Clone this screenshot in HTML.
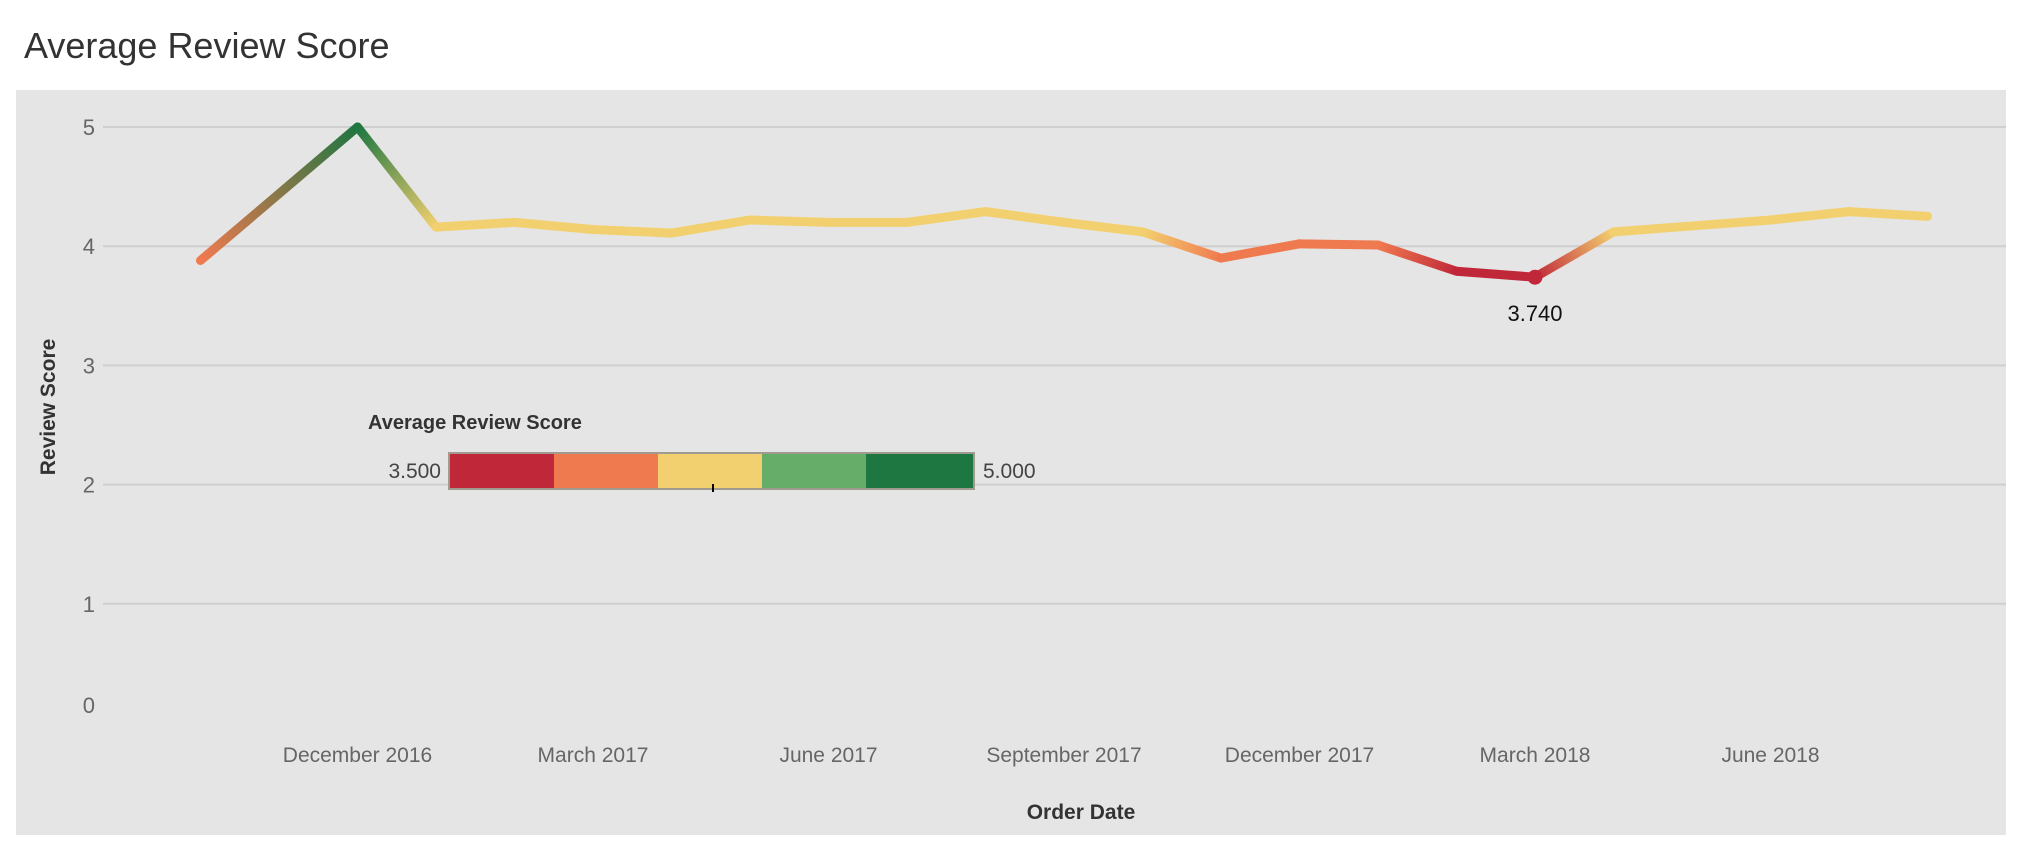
<!DOCTYPE html>
<html><head><meta charset="utf-8"><style>
html,body{margin:0;padding:0;background:#fff;width:2028px;height:852px;overflow:hidden;font-family:"Liberation Sans",sans-serif}
</style></head><body>
<svg id="chart" width="2028" height="852" xmlns="http://www.w3.org/2000/svg" font-family="Liberation Sans, sans-serif">
<text x="24" y="58" font-size="36" fill="#333">Average Review Score</text>
<rect x="16" y="90" width="1990" height="745" fill="#e5e5e5"/>
<g id="grid"></g><g id="yticks"></g><g id="xticks"></g>
<defs id="defs"></defs>
<g id="line"></g>
<text transform="translate(55,407) rotate(-90)" text-anchor="middle" font-size="21" font-weight="bold" fill="#333">Review Score</text>
<text x="1081" y="819" text-anchor="middle" font-size="21" font-weight="bold" fill="#333">Order Date</text>
<g>
<text x="368" y="429" font-size="20" font-weight="bold" fill="#333">Average Review Score</text>
<text x="441" y="478" text-anchor="end" font-size="21" fill="#444">3.500</text>
<text x="983" y="478" font-size="21" fill="#444">5.000</text>
<rect x="449" y="453" width="105" height="36" fill="#c0283a"/>
<rect x="554" y="453" width="104" height="36" fill="#f07a4f"/>
<rect x="658" y="453" width="104" height="36" fill="#f3d06f"/>
<rect x="762" y="453" width="104" height="36" fill="#67ad6a"/>
<rect x="866" y="453" width="108" height="36" fill="#1e7641"/>
<rect x="449" y="453" width="525" height="36" fill="none" stroke="#a09a90" stroke-width="2"/>
<line x1="713" y1="484" x2="713" y2="492" stroke="#000" stroke-width="2"/>
</g>
</svg>
<script>
const months = ["2016-10","2016-12","2017-01","2017-02","2017-03","2017-04","2017-05","2017-06","2017-07","2017-08","2017-09","2017-10","2017-11","2017-12","2018-01","2018-02","2018-03","2018-04","2018-05","2018-06","2018-07","2018-08"];
const scores = [3.88,5.0,4.16,4.20,4.14,4.11,4.22,4.20,4.20,4.29,4.20,4.12,3.90,4.02,4.01,3.79,3.74,4.12,4.17,4.22,4.29,4.25];
const yTicks = [0,1,2,3,4,5];
const xTickLabels = ["December 2016","March 2017","June 2017","September 2017","December 2017","March 2018","June 2018"];
const xTickMonths = ["2016-12","2017-03","2017-06","2017-09","2017-12","2018-03","2018-06"];
const legendColors = ["#c0283a","#f07a4f","#f3d06f","#67ad6a","#1e7641"];
const NS="http://www.w3.org/2000/svg";
function mi(m){const [y,mm]=m.split("-").map(Number);return y*12+mm-1;}
const m0=mi("2016-10");
function xs(m){return 200.5+(mi(m)-m0)*78.5;}
function ys(v){return 127+(5-v)*119.2;}
function col(v){let i=Math.floor((v-3.5)/0.3);i=Math.max(0,Math.min(4,i));return legendColors[i];}
function mk(t,a,p){const e=document.createElementNS(NS,t);for(const k in a)e.setAttribute(k,a[k]);p.appendChild(e);return e;}
const grid=document.getElementById('grid'),yt=document.getElementById('yticks'),xt=document.getElementById('xticks');
yTicks.forEach(v=>{
 if(v>0){const l=mk('line',{x1:103,x2:2006,y1:ys(v),y2:ys(v),stroke:'#cfcfcf','stroke-width':2},grid);
 
 }
 const t=mk('text',{x:95,y:(v>0?ys(v):ys(v)-18)+8,'text-anchor':'end','font-size':22,fill:'#666'},yt);t.textContent=v;
 
 
});
xTickLabels.forEach((s,i)=>{
 const t=mk('text',{x:xs(xTickMonths[i]),y:762,'text-anchor':'middle','font-size':21,fill:'#666'},xt);t.textContent=s;
 
 
});
const defs=document.getElementById('defs'),lg=document.getElementById('line');
for(let i=0;i<scores.length-1;i++){
 const x1=xs(months[i]),x2=xs(months[i+1]),y1=ys(scores[i]),y2=ys(scores[i+1]);
 const g=mk('linearGradient',{id:'g'+i,gradientUnits:'userSpaceOnUse',x1:x1,y1:y1,x2:x2,y2:y2},defs);
 mk('stop',{offset:0,'stop-color':col(scores[i])},g);mk('stop',{offset:1,'stop-color':col(scores[i+1])},g);
 const l=mk('line',{x1:x1,y1:y1,x2:x2,y2:y2,stroke:'url(#g'+i+')','stroke-width':9,'stroke-linecap':'round'},lg);
 
 
}
let mn=0;scores.forEach((v,i)=>{if(v<scores[mn])mn=i;});
const d=mk('circle',{cx:xs(months[mn]),cy:ys(scores[mn]),r:7.5,fill:col(scores[mn])},lg);


const a=mk('text',{x:xs(months[mn]),y:ys(scores[mn])+44,'text-anchor':'middle','font-size':22,fill:'#111'},lg);
a.textContent=scores[mn].toFixed(3);


</script>
</body></html>
